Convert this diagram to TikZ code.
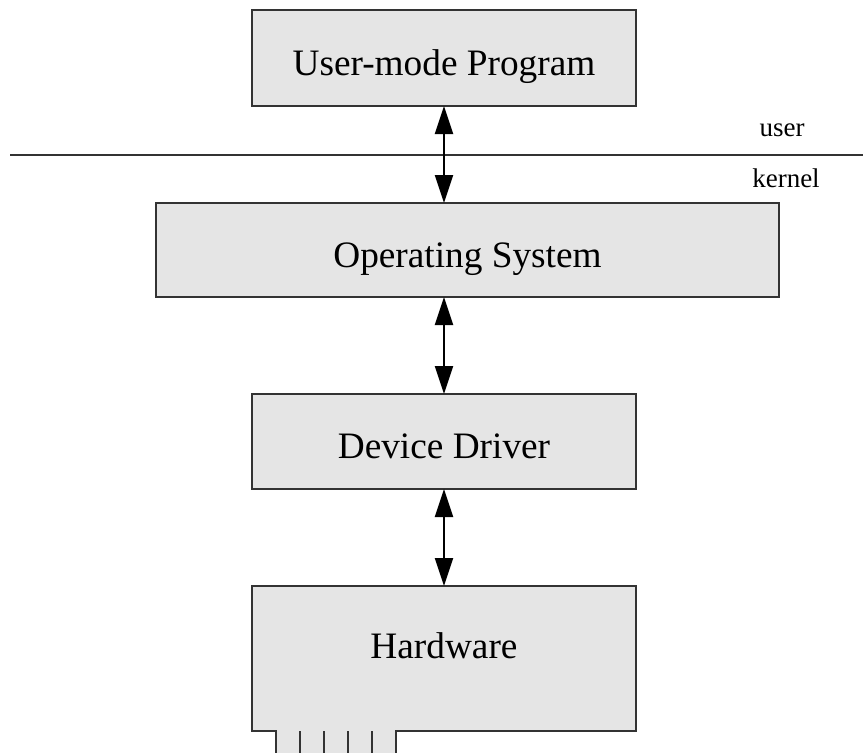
\documentclass[tikz,border=0pt]{standalone}
\usepackage{fontspec}
\setmainfont{Liberation Serif}
\usetikzlibrary{arrows.meta}
\definecolor{boxfill}{HTML}{E5E5E5}
\definecolor{edge}{HTML}{333333}
\begin{document}
\begin{tikzpicture}[x=1pt,y=-1pt,
  box/.style={draw=edge,line width=2pt,fill=boxfill,inner sep=0pt,outer sep=0pt,
    font=\fontsize{37.3}{40}\selectfont,anchor=north west,text height=34pt,text depth=0pt},
  link/.style={line width=2pt,draw=black,{Triangle[length=28pt,width=18pt]}-{Triangle[length=28pt,width=18pt]}},
  lbl/.style={font=\fontsize{27}{30}\selectfont,inner sep=0pt,anchor=base}]
\useasboundingbox (0,0) rectangle (863,753);
\node[box,minimum width=384pt,minimum height=96pt] (user) at (252,10) {User-mode Program};
\node[box,minimum width=623pt,minimum height=94pt] (os) at (156,203) {Operating System};
\node[box,minimum width=384pt,minimum height=95pt] (dd) at (252,394) {Device Driver};
% hardware: filled node, outline drawn separately
\node[box,draw=none,minimum width=384pt,minimum height=145pt,text height=0pt] (hw) at (252,586) {Hardware};
\fill[boxfill] (276,731) rectangle (396,753);
\draw[edge,line width=2pt,line join=miter]
  (276,753) -- (276,731) -- (252,731) -- (252,586) -- (636,586) -- (636,731) -- (396,731) -- (396,753);
\foreach \x in {300,324,348,372} \draw[edge,line width=2pt] (\x,731) -- (\x,753);
% user/kernel divider
\coordinate (la) at (10,155);
\coordinate (lb) at (863,155);
\draw[edge,line width=1.5pt] (la) -- (lb);
\node[lbl] (u) at (782,136) {user};
\node[lbl] (k) at (786,187) {kernel};
% connectors
\draw[link] (user.south -| 444,0) -- (os.north -| 444,0);
\draw[link] (os.south -| 444,0) -- (dd.north -| 444,0);
\draw[link] (dd.south -| 444,0) -- (hw.north -| 444,0);
\end{tikzpicture}
\end{document}
